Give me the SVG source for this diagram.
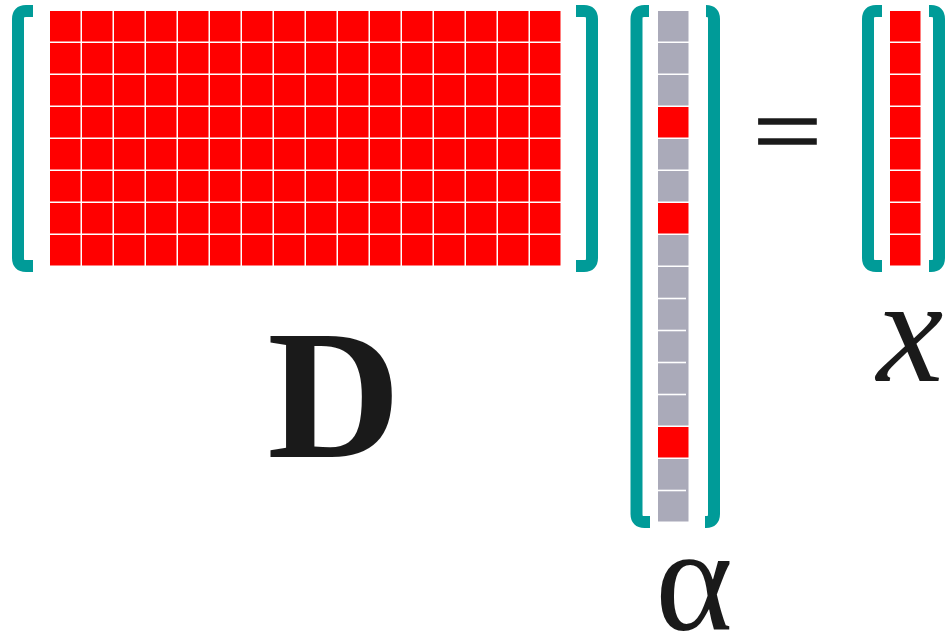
<svg xmlns="http://www.w3.org/2000/svg" width="946" height="637" viewBox="0 0 946 637">
<style>
.br{fill:none;stroke:#009B98;stroke-width:12;stroke-linecap:butt;stroke-linejoin:round}
.red{fill:#FF0000}
.gray{fill:#AAAAB9}
.sep{stroke:#FFFFFF;stroke-width:1.6}
.lbl{fill:#1A1A1A;font-family:"Liberation Serif","DejaVu Serif",serif}
</style>
<defs>
<pattern id="gridD" patternUnits="userSpaceOnUse" x="50" y="11" width="32" height="32">
<rect x="0" y="0" width="30.5" height="30.5" fill="#FF0000"/>
</pattern>
<pattern id="gridX" patternUnits="userSpaceOnUse" x="890" y="11" width="32" height="32">
<rect x="0" y="0" width="30.5" height="30.5" fill="#FF0000"/>
</pattern>
</defs>
<g id="matrixD">
<path class="br" d="M33,11 H26 Q18,11 18,19 V258 Q18,266 26,266 H33"/>
<path class="br" d="M576,11 H584 Q592,11 592,19 V258 Q592,266 584,266 H576"/>
<rect x="50" y="11" width="511" height="255" fill="url(#gridD)"/>
<text class="lbl" x="334" y="457" font-size="185" font-weight="bold" text-anchor="middle">D</text>
</g>
<g id="vectorAlpha">
<path class="br" d="M649,11 H644.5 Q636.5,11 636.5,19 V514 Q636.5,522 644.5,522 H650"/>
<path class="br" d="M706,11 H706 Q714,11 714,19 V514 Q714,522 706,522 H705"/>
<rect class="gray" x="658" y="11" width="30.5" height="30.5"/>
<rect class="gray" x="658" y="43" width="30.5" height="30.5"/>
<rect class="gray" x="658" y="75" width="30.5" height="30.5"/>
<rect class="red" x="658" y="107" width="30.5" height="30.5"/>
<rect class="gray" x="658" y="139" width="30.5" height="30.5"/>
<rect class="gray" x="658" y="171" width="30.5" height="30.5"/>
<rect class="red" x="658" y="203" width="30.5" height="30.5"/>
<rect class="gray" x="658" y="235" width="30.5" height="30.5"/>
<rect class="gray" x="658" y="267" width="30.5" height="158.5"/>
<line class="sep" x1="658" y1="298.5" x2="686" y2="298.5"/>
<line class="sep" x1="658" y1="330.5" x2="686" y2="330.5"/>
<line class="sep" x1="658" y1="362.5" x2="686" y2="362.5"/>
<line class="sep" x1="658" y1="394.5" x2="686" y2="394.5"/>
<rect class="red" x="658" y="427" width="30.5" height="30.5"/>
<rect class="gray" x="658" y="459" width="30.5" height="62.5"/>
<line class="sep" x1="658" y1="490.5" x2="686" y2="490.5"/>
<text class="lbl" x="694" y="630" font-size="148" text-anchor="middle">α</text>
</g>
<g id="equals">
<text class="lbl" transform="translate(787.5,165) scale(1.22,1)" x="0" y="0" font-size="100" text-anchor="middle" stroke="#1A1A1A" stroke-width="1.6">=</text>
</g>
<g id="vectorX">
<path class="br" d="M882,11 H876 Q868,11 868,19 V258 Q868,266 876,266 H882"/>
<path class="br" d="M929,11 H931 Q939,11 939,19 V258 Q939,266 931,266 H929"/>
<rect x="890" y="11" width="31" height="255" fill="url(#gridX)"/>
<text class="lbl" x="910" y="381" font-size="150" font-style="italic" text-anchor="middle">x</text>
</g>
<g id="connectors"></g>
</svg>
